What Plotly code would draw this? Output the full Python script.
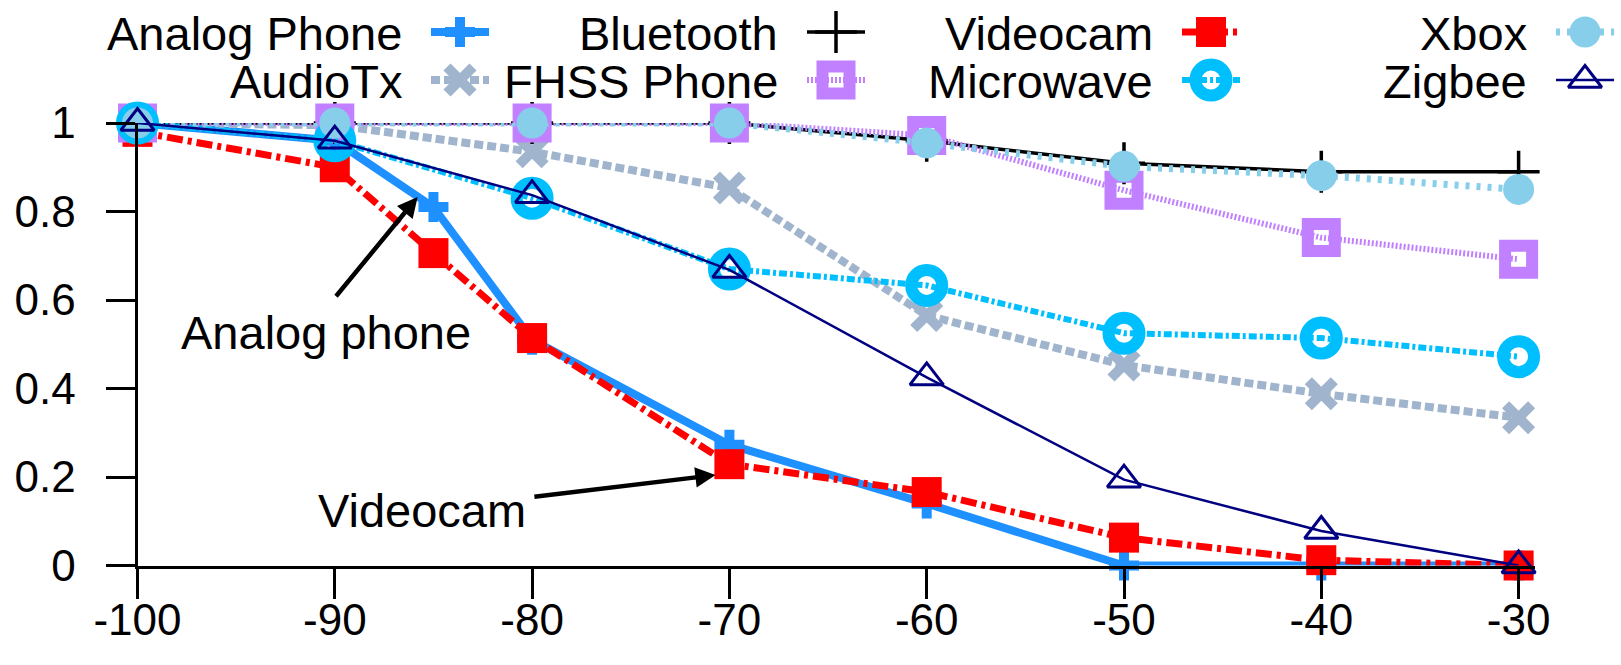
import plotly.graph_objects as go

# ---------------- data ----------------
x_analog = [-100, -90, -85, -80, -70, -60, -50, -40, -30]
y_analog = [1.0, 0.96, 0.81, 0.51, 0.273, 0.14, 0.0, 0.0, 0.0]

x_videocam = [-100, -90, -85, -80, -70, -60, -50, -40, -30]
y_videocam = [0.98, 0.90, 0.706, 0.514, 0.229, 0.166, 0.063, 0.012, 0.0]

x_std = [-100, -90, -80, -70, -60, -50, -40, -30]
y_audiotx = [1.0, 0.995, 0.935, 0.853, 0.565, 0.453, 0.388, 0.334]
y_bluetooth = [1.0, 1.0, 1.0, 1.0, 0.96, 0.909, 0.89, 0.89]
y_fhss = [1.0, 1.0, 1.0, 1.0, 0.972, 0.848, 0.741, 0.692]
y_microwave = [1.0, 0.96, 0.83, 0.67, 0.633, 0.525, 0.514, 0.472]
y_xbox = [1.0, 1.0, 1.0, 1.0, 0.955, 0.902, 0.881, 0.85]
y_zigbee = [1.0, 0.96, 0.837, 0.668, 0.425, 0.194, 0.078, 0.0]

x_ticks = [-100, -90, -80, -70, -60, -50, -40, -30]
x_ticklabels = ["-100", "-90", "-80", "-70", "-60", "-50", "-40", "-30"]
y_ticks = [0, 0.2, 0.4, 0.6, 0.8, 1]
y_ticklabels = ["0", "0.2", "0.4", "0.6", "0.8", "1"]

# ---------------- styles ----------------
W, H = 1621, 665
FONT = "Liberation Sans, Arial, Helvetica, sans-serif"
FS = 47
TFS = 44

styles = {
    "Analog Phone": dict(color="#1e90ff", width=8, dash="solid",
                         symbol="cross", size=25, lw=0),
    "Videocam": dict(color="#ff0000", width=7, dash="16px,5px,4px,5px",
                     symbol="square", size=30, lw=0),
    "AudioTx": dict(color="#a0b5cd", width=8, dash="9px,4px",
                    symbol="x-thin", size=26, lw=10),
    "Bluetooth": dict(color="#000000", width=3.5, dash="solid",
                      symbol="cross-thin", size=30, lw=3.5),
    "FHSS Phone": dict(color="#c080ff", width=6, dash="2px,2px",
                       symbol="square-open", size=27, lw=12),
    "Microwave": dict(color="#00bfff", width=6, dash="8px,3px,3px,3px",
                      symbol="circle-open", size=31, lw=12),
    "Xbox": dict(color="#87ceeb", width=7, dash="4px,7px",
                 symbol="circle", size=31, lw=0),
    "Zigbee": dict(color="#000080", width=2.5, dash="solid",
                   symbol="triangle-up-open", size=29, lw=3),
}

series = [
    ("Analog Phone", x_analog, y_analog),
    ("Videocam", x_videocam, y_videocam),
    ("AudioTx", x_std, y_audiotx),
    ("Bluetooth", x_std, y_bluetooth),
    ("FHSS Phone", x_std, y_fhss),
    ("Microwave", x_std, y_microwave),
    ("Xbox", x_std, y_xbox),
    ("Zigbee", x_std, y_zigbee),
]


def marker_of(st):
    m = dict(symbol=st["symbol"], size=st["size"], color=st["color"])
    m["line"] = dict(color=st["color"], width=st["lw"])
    return m


fig = go.Figure()
for name, xs, ys in series:
    st = styles[name]
    fig.add_trace(go.Scatter(
        x=xs, y=ys, mode="lines+markers", name=name, showlegend=False,
        line=dict(color=st["color"], width=st["width"], dash=st["dash"]),
        marker=marker_of(st), cliponaxis=False,
        xaxis="x", yaxis="y"))

# ---------------- manual gnuplot-style legend (text then sample) ----------------
legend_grid = [["Analog Phone", "Bluetooth", "Videocam", "Xbox"],
               ["AudioTx", "FHSS Phone", "Microwave", "Zigbee"]]
col_centers = [460, 836, 1211, 1585]
row_centers = [32, 80]
half = 29
annotations = []
for r, row in enumerate(legend_grid):
    for c, name in enumerate(row):
        st = styles[name]
        cx, cy = col_centers[c], row_centers[r]
        fig.add_trace(go.Scatter(
            x=[cx - half, cx + half], y=[cy, cy], mode="lines",
            line=dict(color=st["color"], width=st["width"], dash=st["dash"]),
            showlegend=False, hoverinfo="skip", xaxis="x2", yaxis="y2"))
        fig.add_trace(go.Scatter(
            x=[cx], y=[cy], mode="markers", marker=marker_of(st),
            showlegend=False, hoverinfo="skip", xaxis="x2", yaxis="y2",
            cliponaxis=False))
        annotations.append(dict(
            x=(cx - 56) / W, y=1 - (cy + 2) / H, xref="paper", yref="paper",
            text=name, showarrow=False, xanchor="right", yanchor="middle",
            font=dict(family=FONT, size=FS, color="black")))

# ---------------- in-plot annotations ----------------
annotations.append(dict(
    x=-85.8, y=0.833, ax=-90.0, ay=0.605, xref="x", yref="y",
    axref="x", ayref="y", text="", showarrow=True, arrowhead=2,
    arrowsize=0.9, arrowwidth=4.5, arrowcolor="black", standoff=0))
annotations.append(dict(
    x=-90.45, y=0.527, xref="x", yref="y", text="Analog phone",
    showarrow=False, xanchor="center", yanchor="middle",
    font=dict(family=FONT, size=FS, color="black")))
annotations.append(dict(
    x=-70.7, y=0.2045, ax=-79.96, ay=0.155, xref="x", yref="y",
    axref="x", ayref="y", text="", showarrow=True, arrowhead=2,
    arrowsize=0.9, arrowwidth=4.5, arrowcolor="black", standoff=0))
annotations.append(dict(
    x=-85.56, y=0.124, xref="x", yref="y", text="Videocam",
    showarrow=False, xanchor="center", yanchor="middle",
    font=dict(family=FONT, size=FS, color="black")))

# plot area in pixels
PL, PR, PT, PB = 137.5, 1535, 123, 565.5

fig.update_layout(
    template="none",
    width=W, height=H,
    margin=dict(l=0, r=0, t=0, b=0, autoexpand=False),
    paper_bgcolor="white", plot_bgcolor="rgba(0,0,0,0)",
    font=dict(family=FONT, size=FS, color="black"),
    showlegend=False,
    annotations=annotations,
    xaxis=dict(
        domain=[PL / W, PR / W], anchor="y", automargin=False,
        range=[-100, -100 + (PR - PL) / 19.73],
        tickmode="array", tickvals=x_ticks, ticktext=x_ticklabels,
        ticks="outside", ticklen=30, tickwidth=3, tickcolor="black",
        showline=True, linewidth=3, linecolor="black",
        showgrid=False, zeroline=False,
        tickfont=dict(family=FONT, size=TFS, color="black"),
        ticklabelstandoff=-16,
    ),
    yaxis=dict(
        domain=[(H - PB) / H, (H - PT) / H], anchor="x", automargin=False,
        range=[0, 1],
        tickmode="array", tickvals=y_ticks, ticktext=y_ticklabels,
        ticks="outside", ticklen=29, tickwidth=3, tickcolor="black",
        showline=True, linewidth=3, linecolor="black",
        showgrid=False, zeroline=False,
        tickfont=dict(family=FONT, size=TFS, color="black"),
        ticklabelstandoff=21,
    ),
    xaxis2=dict(domain=[0, 1], anchor="y2", range=[0, W], visible=False,
                fixedrange=True, automargin=False),
    yaxis2=dict(domain=[0, 1], anchor="x2", range=[H, 0], visible=False,
                fixedrange=True, automargin=False),
)

fig.write_html(
    "out.html",
    config={"displayModeBar": False},
    post_script="document.body.style.margin='0px';"
                "document.body.style.overflow='hidden';")
